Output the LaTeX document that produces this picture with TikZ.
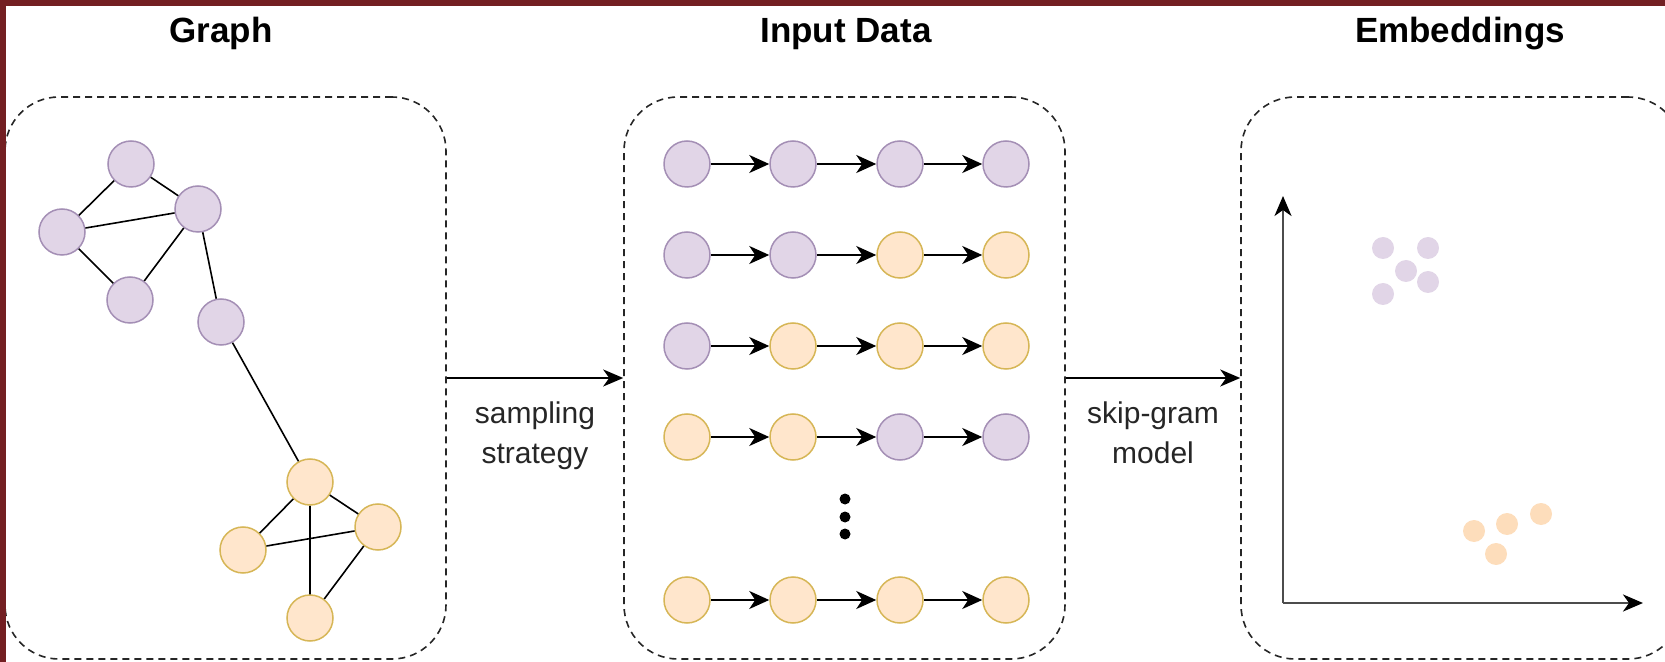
\documentclass[tikz,border=0pt]{standalone}
\usepackage{fontspec}
\setmainfont{Liberation Sans}
\usetikzlibrary{arrows.meta,positioning}
\definecolor{framered}{HTML}{731F22}
\definecolor{violetfill}{HTML}{E1D5E7}
\definecolor{violetline}{HTML}{A48FB5}
\definecolor{orangefill}{HTML}{FFE6CC}
\definecolor{orangeline}{HTML}{D6B656}
\definecolor{dotorange}{HTML}{FDDDBB}
\begin{document}
\begin{tikzpicture}[x=0.5pt,y=-0.5pt,
    panel/.style={draw=black!85,line width=0.8pt,dash pattern=on 3.5pt off 2.5pt,
        rounded corners=27pt,minimum width=220.5pt,minimum height=281pt,inner sep=0pt},
    heading/.style={anchor=base,font=\bfseries\fontsize{17.5}{20}\selectfont},
    note/.style={below=11.5pt,inner sep=0pt,align=center,font=\fontsize{15}{20}\selectfont,text=black!85},
    vtx/.style={circle,minimum size=23pt,inner sep=0pt,line width=0.75pt},
    pnode/.style={vtx,draw=violetline,fill=violetfill},
    onode/.style={vtx,draw=orangeline,fill=orangefill},
    link/.style={line width=0.8pt},
    seq/.style={line width=1.1pt,-{Stealth[length=10pt,width=9pt,inset=3pt]}},
    flow/.style={line width=1pt,-{Stealth[length=10pt,width=8.5pt,inset=3pt]}},
    axis/.style={draw=black!70,line width=1.3pt,-{Stealth[length=10pt,width=8.5pt,inset=3pt,color=black]}},
    vdot/.style={circle,fill=black,minimum size=5.5pt,inner sep=0pt},
    emb/.style={circle,minimum size=11pt,inner sep=0pt}]
    \useasboundingbox (0,0) rectangle (1665,662);

    \node[panel] (graphbox) at (225.5,378) {};
    \node[panel] (inputbox) at (844.5,378) {};
    \node[panel] (embedbox) at (1461.5,378) {};

    \node[heading] (graphtitle) at (221,43) {Graph};
    \node[heading] (inputtitle) at (846,43) {Input Data};
    \node[heading] (embedtitle) at (1460,43) {Embeddings};

    \draw[flow] (graphbox) -- node[note] (sampling) {sampling\\strategy} (inputbox);
    \draw[flow] (inputbox) -- node[note] (skipgram) {skip-gram\\model} (embedbox);

    \node[pnode] (p1) at (131,164) {};
    \node[pnode] (p2) at (198,209) {};
    \node[pnode] (p3) at (62,232) {};
    \node[pnode] (p4) at (130,300) {};
    \node[pnode] (p5) at (221,322) {};
    \node[onode] (o1) at (310,482) {};
    \node[onode] (o2) at (243,550) {};
    \node[onode] (o3) at (378,527) {};
    \node[onode] (o4) at (310,618) {};
    \draw[link] (p1) -- (p2) (p1) -- (p3) (p3) -- (p2) (p3) -- (p4) (p4) -- (p2)
        (p2) -- (p5) (p5) -- (o1) (o1) -- (o2) (o1) -- (o3) (o1) -- (o4)
        (o2) -- (o3) (o3) -- (o4);

    \foreach \r/\y/\a/\b/\c/\d in {1/164/pnode/pnode/pnode/pnode,
        2/255/pnode/pnode/onode/onode, 3/346/pnode/onode/onode/onode,
        4/437/onode/onode/pnode/pnode, 5/600/onode/onode/onode/onode} {
        \node[\a] (w\r a) at (687,\y) {};
        \node[\b] (w\r b) at (793,\y) {};
        \node[\c] (w\r c) at (900,\y) {};
        \node[\d] (w\r d) at (1006,\y) {};
        \draw[seq] (w\r a) -- (w\r b);
        \draw[seq] (w\r b) -- (w\r c);
        \draw[seq] (w\r c) -- (w\r d);
    }
    \node[vdot] (dot1) at (845,499) {};
    \node[vdot] (dot2) at (845,517) {};
    \node[vdot] (dot3) at (845,534) {};

    \coordinate (origin) at (1283,603);
    \coordinate (ytip) at (1283,196);
    \coordinate (xtip) at (1643,603);
    \draw[axis] (origin) -- (ytip);
    \draw[axis] (origin) -- (xtip);

    \node[emb,fill=violetfill] (ep1) at (1383,248) {};
    \node[emb,fill=violetfill] (ep2) at (1428,248) {};
    \node[emb,fill=violetfill] (ep3) at (1406,271) {};
    \node[emb,fill=violetfill] (ep4) at (1428,282) {};
    \node[emb,fill=violetfill] (ep5) at (1383,294) {};
    \node[emb,fill=dotorange] (eo1) at (1474,531) {};
    \node[emb,fill=dotorange] (eo2) at (1507,524) {};
    \node[emb,fill=dotorange] (eo3) at (1541,514) {};
    \node[emb,fill=dotorange] (eo4) at (1496,554) {};

    \fill[framered] (0,0) rectangle (1665,6);
    \fill[framered] (0,0) rectangle (6,662);
\end{tikzpicture}
\end{document}
